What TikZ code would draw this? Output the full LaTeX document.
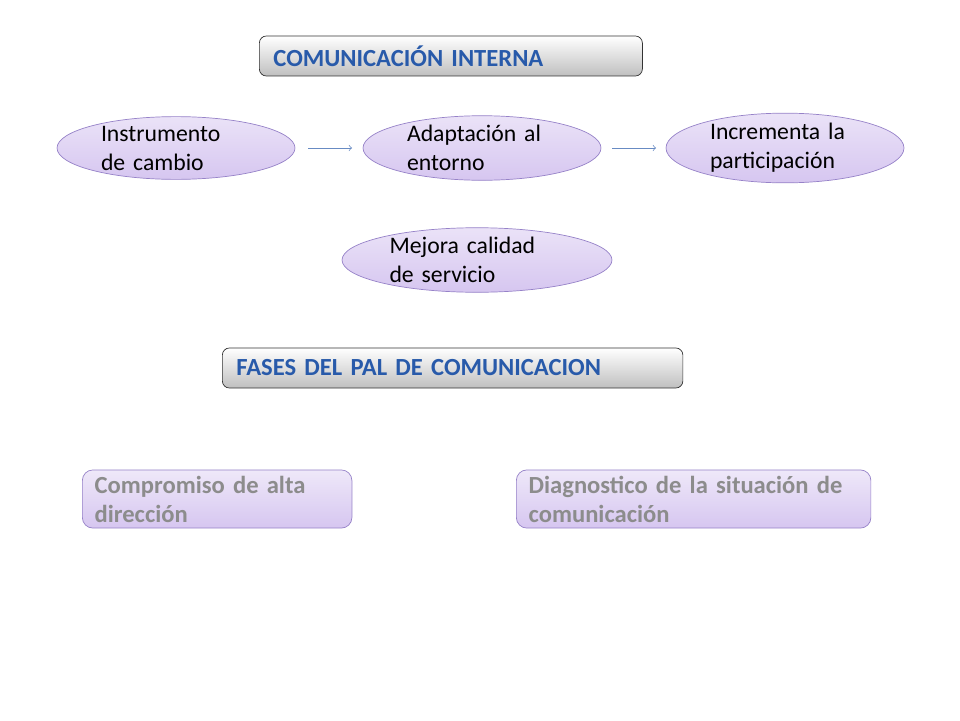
\documentclass[tikz,border=0pt]{standalone}
\usepackage{fontspec}
\setmainfont{Carlito}
\usetikzlibrary{shapes.geometric,positioning}
\definecolor{lilac}{RGB}{214,198,240}
\definecolor{lilacedge}{RGB}{150,130,200}
\definecolor{titleblue}{RGB}{40,90,170}
\tikzset{
  idea/.style={ellipse, draw=lilacedge, top color=lilac!50, bottom color=lilac,
    minimum width=4.76cm, minimum height=1.16cm, inner sep=0pt,
    text width=3cm, align=left, font=\fontsize{13.5}{16.5}\selectfont},
  titlebox/.style={draw=black!80, rounded corners=4pt, top color=white, bottom color=black!25,
    minimum height=0.8cm, inner xsep=8pt, anchor=west, text width=#1, align=left,
    font=\fontsize{14}{16}\selectfont\bfseries\color{titleblue}},
  phase/.style={draw=lilacedge, rounded corners=6pt, top color=lilac!40, bottom color=lilac,
    minimum height=1.16cm, inner xsep=7pt, anchor=west, text width=#1, align=left,
    font=\fontsize{14}{16.5}\selectfont\bfseries\color{black!45}},
  flow/.style={->, draw=titleblue!70}
}
\begin{document}
\begin{tikzpicture}[x=0.02cm, y=-0.02cm]
    \useasboundingbox (0,0) rectangle (960,720);

    % Titles
    \node [titlebox=7.1cm] (intern) at (259,56) {COMUNICACIÓN INTERNA};
    \node [titlebox=8.65cm] (fases) at (222,368) {FASES DEL PAL DE COMUNICACION};

    % Ideas
    \node [idea] (instr) at (176,148) {Instrumento\\de cambio};
    \node [idea] (adapt) at (482,148) {Adaptación al\\entorno};
    \node [idea] (increm) at (785,148) {Incrementa la\\participación};
    \node [idea, minimum width=5.4cm, text width=3.5cm] (mejora) at (477,260)
        {Mejora calidad\\de servicio};

    % Arrows
    \coordinate (a1) at (308,148);
    \coordinate (a2) at (352,148);
    \coordinate (b1) at (612,148);
    \coordinate (b2) at (656,148);
    \draw [flow] (a1) -- (a2);
    \draw [flow] (b1) -- (b2);

    % Phases
    \node [phase=4.9cm] (compr) at (82,499) {Compromiso de alta\\dirección};
    \node [phase=6.6cm] (diagn) at (516,499) {Diagnostico de la situación de\\comunicación};
\end{tikzpicture}
\end{document}
